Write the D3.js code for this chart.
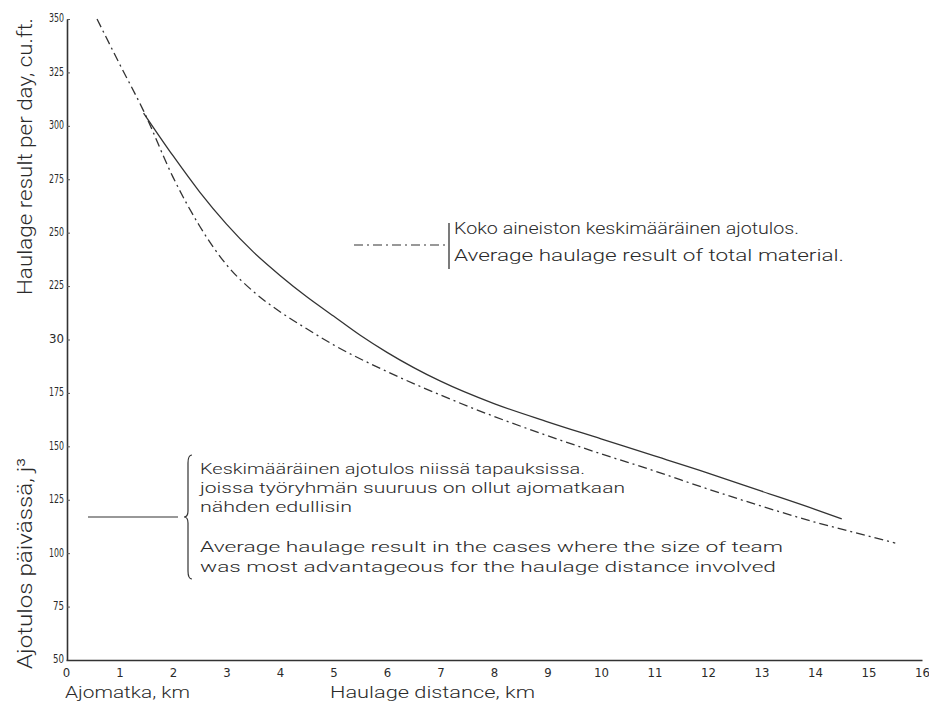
<!DOCTYPE html>
<html>
<head>
<meta charset="utf-8">
<script src="https://cdn.jsdelivr.net/npm/d3@7"></script>
<style>
  body { margin: 0; background: #fff; }
  text { fill: #2a2a2a; }
</style>
</head>
<body>
<div id="chart"></div>
<script>
// values
const distanceTicks = d3.range(0, 17)
const resultTicks = [50, 75, 100, 125, 150, 175, 200, 225, 250, 275, 300, 325, 350]
const resultTickLabels = ['50', '75', '100', '125', '150', '175', '30', '225', '250', '275', '300', '325', '350']

// average haulage result of total material (dash-dot)
const totalKm = [0.58, 1.0, 1.45, 2.0, 2.5, 3.0, 3.5, 4.0, 4.5, 5.0, 6.0, 7.0, 8.0, 9.0, 10.0, 11.0, 12.0, 13.0, 14.0, 15.0, 15.5]
const totalResult = [350, 329, 307, 276, 253, 235, 222.5, 213, 205, 197.5, 185, 174, 164, 155, 146.5, 138.5, 130, 122, 114.5, 108, 104.7]

// average result where team size was most advantageous (solid)
const optimalKm = [1.45, 2.0, 2.5, 3.0, 3.5, 4.0, 4.5, 5.0, 5.5, 6.0, 7.0, 8.0, 9.0, 10.0, 11.0, 12.0, 13.0, 14.0, 14.5]
const optimalResult = [306, 286, 269, 254, 241, 230, 220, 211, 202, 194, 180.5, 170, 161.5, 153.5, 145.5, 137.5, 129, 120.5, 116]

const totalLegend = ['Koko aineiston keskimääräinen ajotulos.', 'Average haulage result of total material.']
const optimalLegend = [
  'Keskimääräinen ajotulos niissä tapauksissa.',
  'joissa työryhmän suuruus on ollut ajomatkaan',
  'nähden edullisin',
  'Average haulage result in the cases where the size of team',
  'was most advantageous for the haulage distance involved'
]

const width = 929
const height = 705
const margin = { top: 19, right: 7, bottom: 45, left: 66 }
const font = 'Roboto, "DejaVu Sans", sans-serif'
const narrow = '"Liberation Sans Narrow", "DejaVu Sans Condensed", sans-serif'

const svg = d3.select('#chart').append('svg')
  .attr('width', width)
  .attr('height', height)

const xScale = d3.scaleLinear()
  .domain([0, 16])
  .range([margin.left, width - margin.right])

const yScale = d3.scaleLinear()
  .domain([50, 350])
  .range([height - margin.bottom, margin.top])

// y axis
const yAxis = svg.append('g')
  .attr('transform', 'translate(' + (margin.left + 1) + ',0)')
  .call(
    d3.axisLeft(yScale)
      .tickValues(resultTicks)
      .tickFormat((d, i) => resultTickLabels[i])
      .tickSize(-3)
      .tickSizeOuter(0)
      .tickPadding(3)
  )
yAxis.select('.domain').attr('stroke', '#333').attr('stroke-width', 1.6)
yAxis.selectAll('.tick line').attr('stroke', '#555')
yAxis.selectAll('.tick text')
  .attr('font-family', narrow)
  .attr('font-size', 13)
  .attr('dy', '0.22em')
  .attr('textLength', d => d >= 100 ? 15 : 11)
  .attr('lengthAdjust', 'spacingAndGlyphs')
  .attr('fill', '#2a2a2a')

// x axis
const xAxis = svg.append('g')
  .attr('transform', 'translate(0,' + yScale(50) + ')')
  .call(
    d3.axisBottom(xScale)
      .tickValues(distanceTicks)
      .tickSize(0)
      .tickPadding(8)
  )
xAxis.select('.domain').attr('stroke', '#333').attr('stroke-width', 1.6)
xAxis.selectAll('.tick text')
  .attr('font-family', narrow)
  .attr('font-size', 13)
  .attr('fill', '#2a2a2a')

// axis titles
function title (x, y, rotate, size, len, label) {
  svg.append('text')
    .attr('transform', 'translate(' + x + ',' + y + ')' + (rotate ? ' rotate(-90)' : ''))
    .attr('font-family', font)
    .attr('font-weight', 300)
    .attr('font-size', size)
    .attr('textLength', len)
    .attr('lengthAdjust', 'spacingAndGlyphs')
    .text(label)
}
title(32, 295, true, 21, 277, 'Haulage result per day, cu.ft.')
title(32, 669, true, 21, 211, 'Ajotulos päivässä, j³')
title(65, 698, false, 17, 125, 'Ajomatka, km')
title(330, 698, false, 17, 205, 'Haulage distance, km')

// curves
const line = d3.line()
  .x(d => xScale(d[0]))
  .y(d => yScale(d[1]))
  .curve(d3.curveMonotoneX)

svg.append('path')
  .datum(d3.zip(totalKm, totalResult))
  .attr('fill', 'none')
  .attr('stroke', '#333')
  .attr('stroke-width', 1.3)
  .attr('stroke-dasharray', '9,4,2,4')
  .attr('d', line)

svg.append('path')
  .datum(d3.zip(optimalKm, optimalResult))
  .attr('fill', 'none')
  .attr('stroke', '#333')
  .attr('stroke-width', 1.3)
  .attr('d', line)

// legend: total material
const leg1 = { x1: 354, x2: 446, y: 245, bar: 449, text: 454, top: 223, bottom: 269 }
svg.append('line')
  .attr('x1', leg1.x1).attr('x2', leg1.x2)
  .attr('y1', leg1.y).attr('y2', leg1.y)
  .attr('stroke', '#333').attr('stroke-width', 1.2)
  .attr('stroke-dasharray', '9,4,2,4')
svg.append('line')
  .attr('x1', leg1.bar).attr('x2', leg1.bar)
  .attr('y1', leg1.top).attr('y2', leg1.bottom)
  .attr('stroke', '#333').attr('stroke-width', 1.3)
const leg1Widths = [345, 390]
const leg1Base = [234, 261]
svg.selectAll('.leg1')
  .data(totalLegend)
  .enter().append('text')
  .attr('class', 'leg1')
  .attr('x', leg1.text)
  .attr('y', (d, i) => leg1Base[i])
  .attr('font-family', font)
  .attr('font-weight', 300)
  .attr('font-size', 17)
  .attr('textLength', (d, i) => leg1Widths[i])
  .attr('lengthAdjust', 'spacingAndGlyphs')
  .text(d => d)

// legend: optimal team size
const leg2 = { x1: 88, x2: 178, y: 517, brace: 188, text: 200, top: 455, bottom: 579 }
svg.append('line')
  .attr('x1', leg2.x1).attr('x2', leg2.x2)
  .attr('y1', leg2.y).attr('y2', leg2.y)
  .attr('stroke', '#333').attr('stroke-width', 1.2)
const bx = leg2.brace
svg.append('path')
  .attr('fill', 'none')
  .attr('stroke', '#333')
  .attr('stroke-width', 1.2)
  .attr('d', 'M' + (bx + 4) + ',' + leg2.top +
    ' Q' + bx + ',' + leg2.top + ' ' + bx + ',' + (leg2.top + 8) +
    ' L' + bx + ',' + (leg2.y - 6) +
    ' Q' + bx + ',' + leg2.y + ' ' + (bx - 4) + ',' + leg2.y +
    ' Q' + bx + ',' + leg2.y + ' ' + bx + ',' + (leg2.y + 6) +
    ' L' + bx + ',' + (leg2.bottom - 8) +
    ' Q' + bx + ',' + leg2.bottom + ' ' + (bx + 4) + ',' + leg2.bottom)
const leg2Widths = [385, 425, 152, 583, 576]
const leg2Base = [474, 493, 512, 552, 572]
svg.selectAll('.leg2')
  .data(optimalLegend)
  .enter().append('text')
  .attr('class', 'leg2')
  .attr('x', leg2.text)
  .attr('y', (d, i) => leg2Base[i])
  .attr('font-family', font)
  .attr('font-weight', 300)
  .attr('font-size', 15.5)
  .attr('textLength', (d, i) => leg2Widths[i])
  .attr('lengthAdjust', 'spacingAndGlyphs')
  .text(d => d)
</script>
</body>
</html>
